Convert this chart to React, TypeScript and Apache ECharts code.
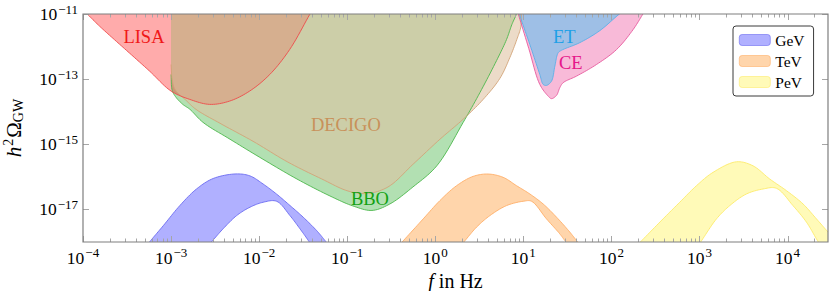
import React, { useEffect, useRef } from "react";
import * as echarts from "echarts";

// ---------------- data: frequency f [Hz] and h^2 Omega_GW ----------------
const lisaF = [9.25e-5, 1.11e-4, 1.55e-4, 2.39e-4, 3.7e-4, 5.71e-4, 1.0e-3, 1.63e-3, 2.74e-3, 4.62e-3, 7.8e-3, 1.32e-2, 2.22e-2, 3.74e-2, 4.69e-2];
const lisaH = [1.67e-11, 1.02e-11, 4.18e-12, 1.45e-12, 5.05e-13, 1.76e-13, 4.3e-14, 2.39e-14, 1.68e-14, 2.12e-14, 4.3e-14, 1.39e-13, 8.09e-13, 9.55e-12, 2.75e-11];

const decigoF = [1.0e-3, 1.03e-3, 1.11e-3, 1.48e-3, 1.92e-3, 3.59e-3, 8.51e-3, 2.12e-2, 5.16e-2, 0.102, 0.167, 0.29, 0.561, 1.13, 2.07, 3.5, 5.41, 7.03, 8.43, 9.38, 9.49, 9.38];
const decigoH = [2.82e-13, 9.79e-14, 4.84e-14, 2.23e-14, 1.18e-14, 4.42e-15, 1.24e-15, 2.84e-16, 8.57e-17, 3.68e-17, 3.08e-17, 4.88e-17, 2.46e-16, 1.43e-15, 5.86e-15, 2.39e-14, 1.05e-13, 4.61e-13, 1.64e-12, 4.09e-12, 1.02e-11, 1.92e-11];

const bboF = [1.0e-3, 1.03e-3, 1.14e-3, 1.36e-3, 1.64e-3, 2.3e-3, 4.67e-3, 1.1e-2, 2.69e-2, 6.37e-2, 0.116, 0.191, 0.305, 0.557, 1.04, 2.07, 3.21, 4.97, 6.44, 7.4, 8.38, 8.89];
const bboH = [1.39e-13, 4.51e-14, 2.75e-14, 1.68e-14, 1.18e-14, 4.74e-15, 1.43e-15, 3.5e-16, 8.57e-17, 2.59e-17, 1.28e-17, 9.31e-18, 1.47e-17, 4.88e-17, 2.18e-16, 4.65e-15, 3.84e-14, 3.73e-13, 1.64e-12, 4.71e-12, 1.02e-11, 1.79e-11];

const etF = [8.28, 8.95, 11.86, 15.38, 16.79, 18.32, 20.89, 22.8, 24.83, 27.16, 43.75, 73.79, 124.5, 174.6];
const etH = [1.92e-11, 1.02e-11, 1.15e-12, 1.39e-13, 6.89e-14, 6.41e-14, 8.69e-14, 2.5e-13, 6.41e-13, 7.71e-13, 1.32e-12, 3.08e-12, 1.02e-11, 1.92e-11];

const ceF = [8.11, 8.73, 11.53, 15.38, 19.14, 20.89, 23.82, 25.94, 28.31, 40.18, 67.76, 114.3, 176.2, 229.1, 265.5];
const ceH = [1.92e-11, 1.02e-11, 8.69e-13, 6.89e-14, 3.02e-14, 2.52e-14, 3.18e-14, 5.46e-14, 7.76e-14, 1.24e-13, 2.82e-13, 8.09e-13, 3.31e-12, 1.02e-11, 1.92e-11];

const gevUpF = [3.98e-4, 5.86e-4, 8.15e-4, 1.26e-3, 1.95e-3, 3.01e-3, 5.46e-3, 7.87e-3, 1.11e-2, 1.58e-2, 2.24e-2, 3.17e-2, 4.5e-2, 5.58e-2, 6.89e-2];
const gevUpH = [3.09e-19, 1.1e-18, 3.16e-18, 1.32e-17, 4.27e-17, 8.91e-17, 1.23e-16, 1.07e-16, 6.03e-17, 2.95e-17, 1.32e-17, 5.75e-18, 2.24e-18, 1.12e-18, 5.37e-19];
const gevLoF = [1.96e-3, 2.96e-3, 3.91e-3, 5.55e-3, 7.87e-3, 1.11e-2, 1.58e-2, 2.24e-2, 2.9e-2, 3.61e-2, 4.3e-2];
const gevLoH = [3.09e-19, 1.1e-18, 2.57e-18, 6.46e-18, 1.17e-17, 1.66e-17, 1.78e-17, 6.46e-18, 2.57e-18, 1.12e-18, 5.37e-19];

const tevUpF = [0.31, 0.433, 0.73, 1.127, 1.746, 2.692, 3.981, 5.902, 8.375, 11.86, 16.79, 23.82, 33.73, 40.18, 53.95];
const tevUpH = [4.07e-19, 1.09e-18, 5.13e-18, 1.86e-17, 5.35e-17, 1.035e-16, 1.22e-16, 9.66e-17, 5.35e-17, 2.98e-17, 1.47e-17, 5.77e-18, 2.01e-18, 1.11e-18, 4.07e-19];
const tevLoF = [1.585, 2.168, 2.944, 4.169, 6.442, 9.954, 12.39, 18.32, 25.94, 29.58, 39.17];
const tevLoH = [4.07e-19, 1.09e-18, 2.86e-18, 6.46e-18, 1.31e-17, 1.78e-17, 1.78e-17, 5.13e-18, 1.78e-18, 1.11e-18, 4.07e-19];

const pevUpF = [153, 220, 386, 597, 925, 1426, 2630, 4055, 6281, 9727, 15000, 21280, 28840, 48200];
const pevUpH = [4.07e-19, 1.09e-18, 5.13e-18, 1.66e-17, 5.35e-17, 1.374e-16, 2.9e-16, 2.18e-16, 8.57e-17, 3.76e-17, 1.47e-17, 5.13e-18, 2.01e-18, 4.07e-19];
const pevLoF = [822, 1054, 1560, 2208, 3412, 5272, 7482, 11530, 16410, 21280, 27350];
const pevLoH = [4.07e-19, 1.09e-18, 5.13e-18, 1.31e-17, 2.98e-17, 4.24e-17, 4.45e-17, 1.31e-17, 4.06e-18, 1.25e-18, 4.07e-19];

const legendNames = ["GeV", "TeV", "PeV"];
const xTickExponents = [-4, -3, -2, -1, 0, 1, 2, 3, 4];
const yTickExponents = [-17, -15, -13, -11];

// ---------------- axis limits ----------------
const X_MIN = 1e-4;
const X_MAX = 2.88e4;
const Y_MIN = 1e-18;
const Y_MAX = 1e-11;

const FONT = "Liberation Serif";

// annotation placement (data coordinates of label centres)
const annotations = [
  { text: "LISA", f: 4.92e-4, h: 2.02e-12, color: "#f01818" },
  { text: "DECIGO", f: 9.66e-2, h: 3.84e-15, color: "#c8915a" },
  { text: "BBO", f: 0.181, h: 2.09e-17, color: "#12a012" },
  { text: "ET", f: 29.2, h: 2.02e-12, color: "#1ea0e6" },
  { text: "CE", f: 34.6, h: 3.08e-13, color: "#e6178a" },
];

// centripetal Catmull-Rom through the pixel points (drawing only)
function spline(pts: number[][], n = 10): number[][] {
  if (pts.length < 3) return pts;
  const out: number[][] = [];
  const dist = (a: number[], b: number[]) => Math.max(1e-4, Math.sqrt(Math.hypot(b[0] - a[0], b[1] - a[1])));
  const N = pts.length;
  for (let i = 0; i < N - 1; i++) {
    const p1 = pts[i];
    const p2 = pts[i + 1];
    const p0 = i > 0 ? pts[i - 1] : [2 * p1[0] - p2[0], 2 * p1[1] - p2[1]];
    const p3 = i + 2 < N ? pts[i + 2] : [2 * p2[0] - p1[0], 2 * p2[1] - p1[1]];
    const t0 = 0;
    const t1 = t0 + dist(p0, p1);
    const t2 = t1 + dist(p1, p2);
    const t3 = t2 + dist(p2, p3);
    for (let k = 0; k < n; k++) {
      const t = t1 + ((t2 - t1) * k) / n;
      const pt: number[] = [0, 0];
      for (let c = 0; c < 2; c++) {
        const A1 = ((t1 - t) / (t1 - t0)) * p0[c] + ((t - t0) / (t1 - t0)) * p1[c];
        const A2 = ((t2 - t) / (t2 - t1)) * p1[c] + ((t - t1) / (t2 - t1)) * p2[c];
        const A3 = ((t3 - t) / (t3 - t2)) * p2[c] + ((t - t2) / (t3 - t2)) * p3[c];
        const B1 = ((t2 - t) / (t2 - t0)) * A1 + ((t - t0) / (t2 - t0)) * A2;
        const B2 = ((t3 - t) / (t3 - t1)) * A2 + ((t - t1) / (t3 - t1)) * A3;
        pt[c] = ((t2 - t) / (t2 - t1)) * B1 + ((t - t1) / (t2 - t1)) * B2;
      }
      out.push(pt);
    }
  }
  out.push(pts[N - 1]);
  return out;
}

function customBase(name: string, z: number, clip: boolean, renderItem: any) {
  return {
    type: "custom",
    name,
    coordinateSystem: "cartesian2d",
    clip,
    silent: true,
    z,
    data: [[1, 1e-15]],
    renderItem,
  };
}

// filled region from a sensitivity curve up to the top of the plot
function sensitivityFill(name: string, fs: number[], hs: number[], fill: string, z: number) {
  return customBase(name, z, true, (_p: any, api: any) => {
    const pts = spline(fs.map((f, i) => api.coord([f, hs[i]])));
    const topY = api.coord([1, 1e-8])[1];
    const poly = pts.concat([
      [pts[pts.length - 1][0], topY],
      [pts[0][0], topY],
    ]);
    return { type: "polygon", shape: { points: poly }, style: { fill, stroke: null } };
  });
}

function sensitivityLine(name: string, fs: number[], hs: number[], stroke: string, z: number) {
  return customBase(name + "-line", z, true, (_p: any, api: any) => {
    const pts = spline(fs.map((f, i) => api.coord([f, hs[i]])));
    return { type: "polyline", shape: { points: pts }, style: { fill: null, stroke, lineWidth: 0.9 } };
  });
}

function band(name: string, uf: number[], uh: number[], lf: number[], lh: number[], fill: string, stroke: string, z: number) {
  return customBase(name, z, true, (_p: any, api: any) => {
    const up = spline(uf.map((f, i) => api.coord([f, uh[i]])));
    const lo = spline(lf.map((f, i) => api.coord([f, lh[i]])));
    const poly = up.concat(lo.slice().reverse());
    return {
      type: "group",
      children: [
        { type: "polygon", shape: { points: poly }, style: { fill, stroke: null } },
        { type: "polyline", shape: { points: up }, style: { fill: null, stroke, lineWidth: 0.9 } },
        { type: "polyline", shape: { points: lo }, style: { fill: null, stroke, lineWidth: 0.9 } },
      ],
    };
  });
}

const bandColors: Record<string, { fill: string; stroke: string }> = {
  GeV: { fill: "rgba(0,0,255,0.31)", stroke: "#6a6af0" },
  TeV: { fill: "rgba(255,128,0,0.33)", stroke: "#ffae66" },
  PeV: { fill: "rgba(255,238,0,0.28)", stroke: "#fdeb6a" },
};

function supLabel(exp: number) {
  const s = exp < 0 ? "\u2212" + -exp : String(exp);
  return `{b|10}{s|${s}}`;
}

const labelRich = {
  b: { fontFamily: FONT, fontSize: 17.5, color: "#000" },
  s: { fontFamily: FONT, fontSize: 13, color: "#000", padding: [0, 0, 10, 1] },
};

const option: any = {
  animation: false,
  backgroundColor: "#fff",
  textStyle: { fontFamily: FONT },
  grid: { left: 83, right: 2, top: 14, bottom: 49, show: false, containLabel: false, outerBoundsMode: "none" },
  xAxis: {
    type: "log",
    logBase: 10,
    min: X_MIN,
    max: X_MAX,
    interval: 1,
    axisLine: { show: false },
    axisTick: { show: false },
    splitLine: { show: false },
    axisLabel: {
      margin: 4,
      fontFamily: FONT,
      formatter: (v: number) => {
        const e = Math.log10(v);
        const r = Math.round(e);
        if (Math.abs(e - r) > 1e-6 || !xTickExponents.includes(r)) return "";
        return supLabel(r);
      },
      rich: labelRich,
    },
    name: "{i|f}{b| in Hz}",
    nameLocation: "middle",
    nameGap: 21,
    nameTextStyle: {
      fontFamily: FONT,
      rich: {
        i: { fontFamily: FONT, fontSize: 20, fontStyle: "italic", color: "#000" },
        b: { fontFamily: FONT, fontSize: 20, color: "#000" },
      },
    },
  },
  yAxis: {
    type: "log",
    logBase: 10,
    min: Y_MIN,
    max: Y_MAX,
    interval: 1,
    axisLine: { show: false },
    axisTick: { show: false },
    splitLine: { show: false },
    axisLabel: {
      margin: 5,
      fontFamily: FONT,
      formatter: (v: number) => {
        const e = Math.log10(v);
        const r = Math.round(e);
        if (Math.abs(e - r) > 1e-6 || !yTickExponents.includes(r)) return "";
        return supLabel(r);
      },
      rich: labelRich,
    },
    name: "{i|h}{s|2}{b|\u03A9}{sub|GW}",
    nameLocation: "middle",
    nameRotate: 90,
    nameGap: 57,
    nameTextStyle: {
      fontFamily: FONT,
      rich: {
        i: { fontFamily: FONT, fontSize: 21, fontStyle: "italic", color: "#000" },
        s: { fontFamily: FONT, fontSize: 14, color: "#000", padding: [0, 1, 11, 1] },
        b: { fontFamily: FONT, fontSize: 21, color: "#000" },
        sub: { fontFamily: FONT, fontSize: 14, color: "#000", padding: [10, 0, 0, 0] },
      },
    },
  },
  legend: {
    orient: "vertical",
    left: 733,
    top: 26,
    padding: [6, 9, 6, 6],
    itemGap: 5,
    itemWidth: 31,
    itemHeight: 11,
    selectedMode: false,
    backgroundColor: "#fff",
    borderColor: "#3a3a3a",
    borderWidth: 1,
    borderRadius: 3,
    textStyle: { fontFamily: FONT, fontSize: 15.5, color: "#000" },
    data: legendNames.map((n) => ({
      name: n,
      icon: "roundRect",
      itemStyle: { color: bandColors[n].fill, borderColor: bandColors[n].stroke, borderWidth: 0.6 },
    })),
    z: 30,
  },
  series: [
    band("GeV", gevUpF, gevUpH, gevLoF, gevLoH, bandColors.GeV.fill, bandColors.GeV.stroke, 2),
    band("TeV", tevUpF, tevUpH, tevLoF, tevLoH, bandColors.TeV.fill, bandColors.TeV.stroke, 2),
    band("PeV", pevUpF, pevUpH, pevLoF, pevLoH, bandColors.PeV.fill, bandColors.PeV.stroke, 2),
    sensitivityFill("BBO", bboF, bboH, "rgba(0,152,0,0.3)", 3),
    sensitivityFill("LISA", lisaF, lisaH, "rgba(255,0,0,0.33)", 4),
    sensitivityFill("DECIGO", decigoF, decigoH, "rgba(223,193,160,0.58)", 5),
    sensitivityFill("CE", ceF, ceH, "rgba(230,0,110,0.27)", 6),
    sensitivityFill("ET", etF, etH, "rgba(0,200,255,0.36)", 7),
    sensitivityLine("BBO", bboF, bboH, "#4cb84c", 8),
    sensitivityLine("DECIGO", decigoF, decigoH, "#d2a478", 8),
    sensitivityLine("LISA", lisaF, lisaH, "#ee4a4a", 8),
    sensitivityLine("CE", ceF, ceH, "#e65a9e", 8),
    sensitivityLine("ET", etF, etH, "#5ab0e8", 8),
    customBase("annotations", 10, false, (_p: any, api: any) => ({
      type: "group",
      children: annotations.map((a) => {
        const [x, y] = api.coord([a.f, a.h]);
        return {
          type: "text",
          x,
          y,
          style: {
            text: a.text,
            fill: a.color,
            fontFamily: FONT,
            fontSize: 18.5,
            align: "center",
            verticalAlign: "middle",
          },
        };
      }),
    })),
    customBase("frame", 20, false, (_p: any, api: any) => {
      const [x0, yb] = api.coord([X_MIN, Y_MIN]);
      const [x1, yt] = api.coord([X_MAX, Y_MAX]);
      const children: any[] = [];
      const tick = (ax: number, ay: number, bx: number, by: number) =>
        children.push({
          type: "line",
          shape: { x1: ax, y1: ay, x2: bx, y2: by },
          style: { stroke: "#a6a6a6", lineWidth: 1 },
        });
      for (const d of xTickExponents) {
        for (let m = 1; m <= 9; m++) {
          const f = m * Math.pow(10, d);
          if (f > X_MAX) break;
          const x = Math.round(api.coord([f, 1e-15])[0]) + 0.5;
          const len = m === 1 ? 6 : 3.5;
          tick(x, yb, x, yb - len);
          tick(x, yt, x, yt + len);
        }
      }
      for (const e of yTickExponents) {
        const y = Math.round(api.coord([1, Math.pow(10, e)])[1]) + 0.5;
        tick(x0, y, x0 + 6, y);
        tick(x1, y, x1 - 6, y);
      }
      children.push({
        type: "rect",
        shape: { x: x0, y: yt, width: x1 - x0, height: yb - yt },
        style: { fill: null, stroke: "#7f7f7f", lineWidth: 1.2 },
      });
      return { type: "group", children };
    }),
  ],
};

export default function App() {
  const ref = useRef<HTMLDivElement>(null);
  useEffect(() => {
    document.body.style.margin = "0";
    const chart = echarts.init(ref.current as HTMLDivElement, null, { renderer: "svg" });
    chart.setOption(option);
    return () => chart.dispose();
  }, []);
  return <div ref={ref} style={{ width: 830, height: 291 }} />;
}
